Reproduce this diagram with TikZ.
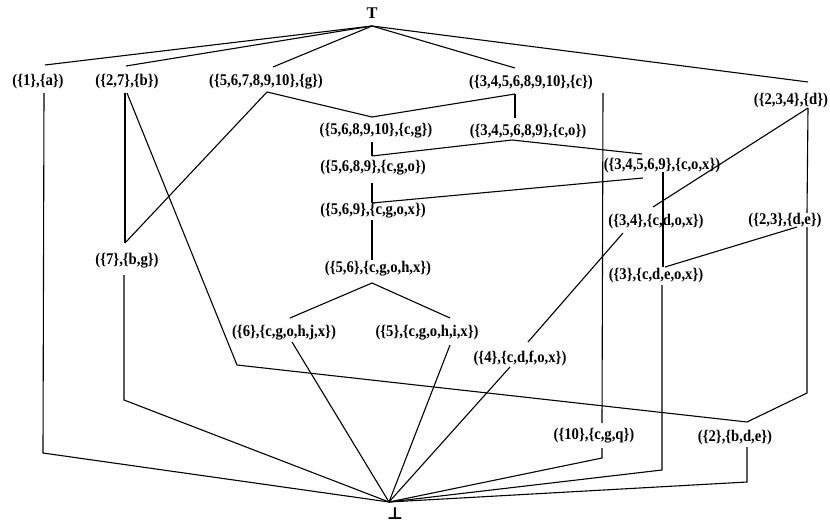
\documentclass[tikz,border=0pt]{standalone}
\usepackage{fontspec}
\setmainfont{Liberation Serif}
\newfontfamily\lblfont{Liberation Serif}[UprightFont={* Bold}]
\newfontfamily\symfont{DejaVu Serif}[UprightFont={* Bold}]
\newcommand{\conc}[1]{\scalebox{0.9}[1]{#1}}
\usetikzlibrary{calc}
\begin{document}
\begin{tikzpicture}[x=1pt,y=-1pt,
  lbl/.style={font=\fontsize{16.3}{19}\lblfont, inner sep=0pt,
              text height=11.2pt, text depth=2.9pt},
  edge/.style={line width=1.1pt, line join=miter}]
\useasboundingbox (0,0) rectangle (830,524);

% concepts
\node[lbl] (top)   at (372,14)  {T};
\node[lbl] (n1a)   at (38,81)   {\conc{(\{1\},\{a\})}};
\node[lbl] (n27b)  at (127,81)  {\conc{(\{2,7\},\{b\})}};
\node[lbl] (ng)    at (266,81)  {\conc{(\{5,6,7,8,9,10\},\{g\})}};
\node[lbl] (nc)    at (531,82)  {\conc{(\{3,4,5,6,8,9,10\},\{c\})}};
\node[lbl] (nd)    at (791,100) {\conc{(\{2,3,4\},\{d\})}};
\node[lbl] (ncg)   at (376,130) {\conc{(\{5,6,8,9,10\},\{c,g\})}};
\node[lbl] (nco)   at (528,131) {\conc{(\{3,4,5,6,8,9\},\{c,o\})}};
\node[lbl] (ncgo)  at (373,167) {\conc{(\{5,6,8,9\},\{c,g,o\})}};
\node[lbl] (ncox)  at (662,165) {\conc{(\{3,4,5,6,9\},\{c,o,x\})}};
\node[lbl] (ncgox) at (373,210) {\conc{(\{5,6,9\},\{c,g,o,x\})}};
\node[lbl] (n34)   at (656,221) {\conc{(\{3,4\},\{c,d,o,x\})}};
\node[lbl] (nde)   at (785,220) {\conc{(\{2,3\},\{d,e\})}};
\node[lbl] (n7)    at (127,260) {\conc{(\{7\},\{b,g\})}};
\node[lbl] (n56)   at (378,268) {\conc{(\{5,6\},\{c,g,o,h,x\})}};
\node[lbl] (n3)    at (656,275) {\conc{(\{3\},\{c,d,e,o,x\})}};
\node[lbl] (n6)    at (284,332) {\conc{(\{6\},\{c,g,o,h,j,x\})}};
\node[lbl] (n5)    at (427,332) {\conc{(\{5\},\{c,g,o,h,i,x\})}};
\node[lbl] (n4)    at (520,358) {\conc{(\{4\},\{c,d,f,o,x\})}};
\node[lbl] (n10)   at (594,435) {\conc{(\{10\},\{c,g,q\})}};
\node[lbl] (n2)    at (735,437) {\conc{(\{2\},\{b,d,e\})}};
\node[lbl, font=\fontsize{17}{19}\symfont] (bot) at (395,515) {⊥};

% bends of the routed lines
\coordinate (k1)  at (43,453);
\coordinate (k7)  at (124,400);
\coordinate (k2a) at (237,365);
\coordinate (k2b) at (807,393);
\coordinate (k2c) at (747,482);
\coordinate (k3)  at (662,470);
\coordinate (k10) at (602,458);

% lines from the top element
\draw[edge] ($(top)+(0,12)$) -- ($(n1a)+(7,-16)$);
\draw[edge] ($(top)+(0,12)$) -- ($(n27b)+(-1,-15)$);
\draw[edge] ($(top)+(0,12)$) -- ($(ng)+(7,-14)$);
\draw[edge] ($(top)+(0,12)$) -- ($(nc)+(-16,-14)$);
\draw[edge] ($(top)+(0,12)$) -- ($(nd)+(17,-18)$);

% left part
\draw[edge] ($(n27b)+(-2,12)$) -- ($(n7)+(-2,-17)$);
\draw[edge] ($(ng)+(1,11)$) -- ($(n7)+(-2,-17)$);
\draw[edge] ($(n27b)+(0,12)$) -- (k2a) -- ($(n2)+(12,-15)$);

% middle column
\draw[edge] ($(ng)+(1,11)$) -- ($(ncg)+(-4,-13)$);
\draw[edge] ($(nc)+(-16,12)$) -- ($(ncg)+(-4,-13)$);
\draw[edge] ($(nc)+(-16,12)$) -- ($(nco)+(-13,-13)$);
\draw[edge] ($(ncg)+(-4,12)$) -- ($(ncgo)+(-1,-11)$);
\draw[edge] ($(nco)+(-16,9)$) -- ($(ncgo)+(-1,-11)$);
\draw[edge] ($(nco)+(-16,9)$) -- ($(ncox)+(-20,-11)$);
\draw[edge] ($(ncgo)+(-1,16)$) -- ($(ncgox)+(-1,-7)$);
\draw[edge] ($(ncox)+(-19,13)$) -- ($(ncgox)+(-1,-7)$);
\draw[edge] ($(ncgox)+(-1,10)$) -- ($(n56)+(-6,-8)$);
\draw[edge] ($(n56)+(-6,15)$) -- ($(n6)+(6,-14)$);
\draw[edge] ($(n56)+(-6,15)$) -- ($(n5)+(23,-14)$);

% right part
\draw[edge] ($(nc)+(72,11)$) -- ($(n10)+(8,-12)$);
\draw[edge] ($(ncox)+(1,7)$) -- ($(n3)+(7,-8)$);
\draw[edge] ($(nd)+(17,8)$) -- ($(n34)+(-3,-14)$);
\draw[edge] ($(nd)+(17,8)$) -- ($(nde)+(22,-7)$);
\draw[edge] ($(nde)+(12,7)$) -- ($(n3)+(9,-8)$);
\draw[edge] ($(nde)+(22,7)$) -- (k2b) -- ($(n2)+(12,-15)$);
\draw[edge] ($(n34)+(-33,12)$) -- ($(n4)+(8,-16)$);

% lines into the bottom element
\draw[edge] ($(n1a)+(6,12)$) -- (k1) -- ($(bot)+(-6,-13)$);
\draw[edge] ($(n7)+(-3,15)$) -- (k7) -- ($(bot)+(-6,-13)$);
\draw[edge] ($(n6)+(8,10)$) -- ($(bot)+(-6,-13)$);
\draw[edge] ($(n5)+(23,13)$) -- ($(bot)+(-6,-13)$);
\draw[edge] ($(n4)+(-10,9)$) -- ($(bot)+(-6,-13)$);
\draw[edge] ($(n10)+(8,13)$) -- (k10) -- ($(bot)+(-6,-13)$);
\draw[edge] ($(n3)+(6,10)$) -- (k3) -- ($(bot)+(-6,-13)$);
\draw[edge] ($(n2)+(12,10)$) -- (k2c) -- ($(bot)+(-6,-13)$);
\end{tikzpicture}
\end{document}
